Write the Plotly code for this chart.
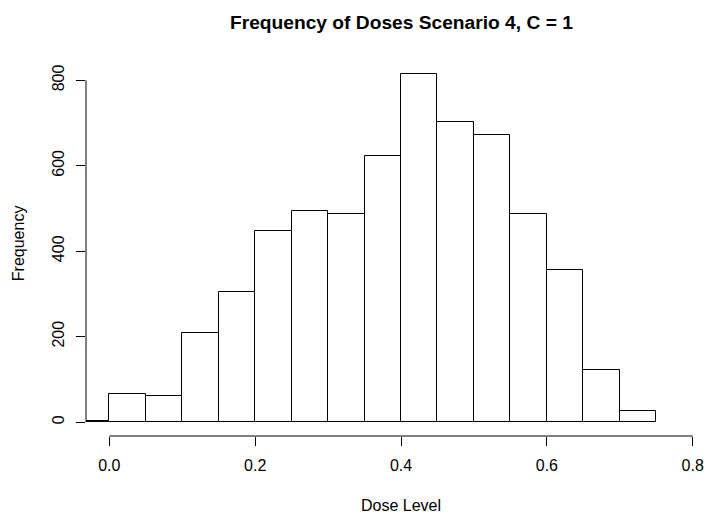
import plotly.graph_objects as go

# Histogram bins (left edges) and counts
bin_left = [-0.05, 0.00, 0.05, 0.10, 0.15, 0.20, 0.25, 0.30, 0.35, 0.40,
            0.45, 0.50, 0.55, 0.60, 0.65, 0.70]
bin_width = 0.05
counts = [3, 66, 61, 208, 305, 447, 494, 487, 623, 815,
          702, 671, 486, 357, 123, 26]

x_ticks = [0.0, 0.2, 0.4, 0.6, 0.8]
x_tick_text = ["0.0", "0.2", "0.4", "0.6", "0.8"]
y_ticks = [0, 200, 400, 600, 800]
y_tick_text = ["0", "200", "400", "600", "800"]

title = "Frequency of Doses Scenario 4, C = 1"
x_title = "Dose Level"
y_title = "Frequency"

FONT = "Liberation Sans, Arial, sans-serif"

mids = [b + bin_width / 2 for b in bin_left]

fig = go.Figure()
fig.add_trace(go.Bar(
    x=mids, y=counts, width=[bin_width] * len(counts),
    marker=dict(color="white", line=dict(color="black", width=1)),
    hoverinfo="x+y", showlegend=False,
))

fig.update_layout(
    width=707, height=516,
    margin=dict(l=86, r=0, t=60, b=80),
    plot_bgcolor="white", paper_bgcolor="white",
    font=dict(family=FONT, size=16, color="black"),
    bargap=0,
    xaxis=dict(
        range=[-0.032, 0.8196], tickvals=x_ticks, ticktext=x_tick_text,
        ticks="outside", ticklen=9, tickwidth=1, tickcolor="black",
        showgrid=False, zeroline=False, showline=False,
        ticklabelstandoff=6,
        tickfont=dict(family=FONT, size=16, color="black"),
    ),
    yaxis=dict(
        range=[-32.6, 847.6], tickvals=y_ticks, ticktext=y_tick_text,
        ticks="outside", ticklen=9, tickwidth=1, tickcolor="black",
        tickangle=-90,
        showgrid=False, zeroline=False, showline=False,
        ticklabelstandoff=6,
        tickfont=dict(family=FONT, size=16, color="black"),
    ),
    shapes=[
        dict(type="line", xref="x", yref="paper", x0=0, x1=0.8, y0=0, y1=0,
             line=dict(color="black", width=1)),
        dict(type="line", xref="paper", yref="y", x0=0, x1=0, y0=0, y1=800,
             line=dict(color="black", width=1)),
    ],
    annotations=[
        dict(text="<b>" + title + "</b>", xref="paper", yref="paper",
             x=(401 - 86) / 621, y=1, yshift=38, showarrow=False,
             xanchor="center", yanchor="middle",
             font=dict(family=FONT, size=19.2, color="black")),
        dict(text=x_title, xref="paper", yref="paper",
             x=(401 - 86) / 621, y=0, yshift=-69, showarrow=False,
             xanchor="center", yanchor="middle",
             font=dict(family=FONT, size=16, color="black")),
        dict(text=y_title, xref="paper", yref="paper", textangle=-90,
             x=0, xshift=-68, y=(435.6 - 243) / 375.6, showarrow=False,
             xanchor="center", yanchor="middle",
             font=dict(family=FONT, size=16, color="black")),
    ],
)

fig.write_html("out.html")
